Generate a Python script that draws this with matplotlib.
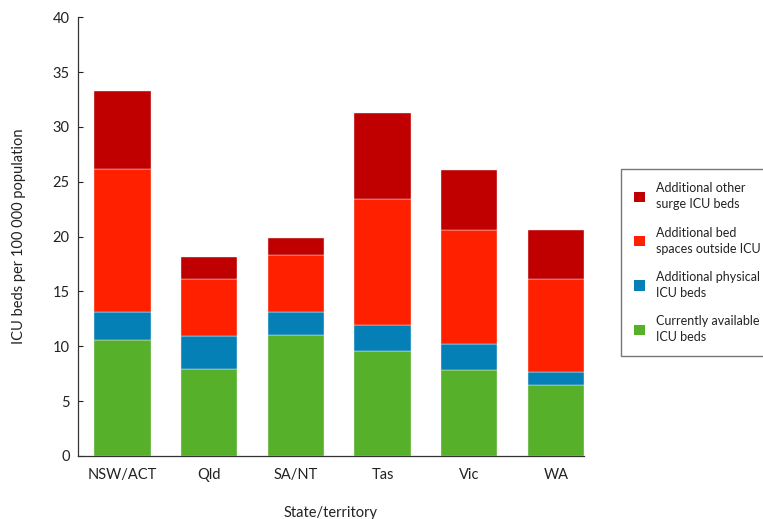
import matplotlib.pyplot as plt
from matplotlib.patches import Patch

# Data (ICU beds per 100 000 population)
states = ['NSW/ACT', 'Qld', 'SA/NT', 'Tas', 'Vic', 'WA']
current_beds = [10.6, 7.9, 11.0, 9.6, 7.8, 6.5]
physical_beds = [2.5, 3.0, 2.1, 2.3, 2.4, 1.2]
outside_beds = [13.1, 5.2, 5.2, 11.5, 10.4, 8.4]
surge_beds = [7.1, 2.0, 1.6, 7.9, 5.5, 4.5]

series_labels = ['Currently available\nICU beds', 'Additional physical\nICU beds',
                 'Additional bed\nspaces outside ICU', 'Additional other\nsurge ICU beds']
colors = ['#56B02A', '#0580B6', '#FF2000', '#C00000']

plt.rcParams['font.family'] = ['Lato', 'DejaVu Sans']

fig = plt.figure(figsize=(7.63, 5.19), dpi=100)
ax = fig.add_axes([0.1022, 0.1214, 0.6632, 0.8453])

x = list(range(len(states)))
bottom = [0.0] * len(states)
for vals, col in zip([current_beds, physical_beds, outside_beds, surge_beds], colors):
    ax.bar(x, vals, width=0.65, bottom=bottom, color=col,
           edgecolor='#f0f0f0', linewidth=0.3)
    bottom = [b + v for b, v in zip(bottom, vals)]

ax.set_xlim(-0.515, 5.325)
ax.set_ylim(0, 40)
ax.set_yticks(range(0, 41, 5))
ax.set_xticks(x)
ax.set_xticklabels(states)

for s in ['top', 'right']:
    ax.spines[s].set_visible(False)
ax.spines['left'].set_color('#333333')
ax.spines['bottom'].set_color('#333333')
ax.spines['left'].set_linewidth(0.9)
ax.spines['bottom'].set_linewidth(0.9)

ax.tick_params(axis='y', direction='in', length=3.5, width=0.8, labelsize=10.5,
               pad=6, colors='#222222')
ax.tick_params(axis='x', length=0, labelsize=10.5, pad=9, colors='#222222')

ax.set_ylabel('ICU beds per 100 000 population', fontsize=10.5, labelpad=19, color='#222222')
ax.set_xlabel('State/territory', fontsize=10.5, labelpad=17, color='#222222')

handles = [Patch(facecolor=c) for c in colors[::-1]]
leg = fig.legend(handles, series_labels[::-1], loc='upper left',
                 bbox_to_anchor=(0.8135, 0.674), fontsize=9,
                 handlelength=0.9, handleheight=0.9, handletextpad=0.85,
                 labelspacing=1.3, borderpad=1.05, borderaxespad=0,
                 fancybox=False, frameon=True)
leg.get_frame().set_edgecolor('#555555')
leg.get_frame().set_linewidth(1.0)
for t in leg.get_texts():
    t.set_color('#222222')
    t.set_linespacing(1.4)

plt.savefig('out.png', dpi=100)
plt.close()
